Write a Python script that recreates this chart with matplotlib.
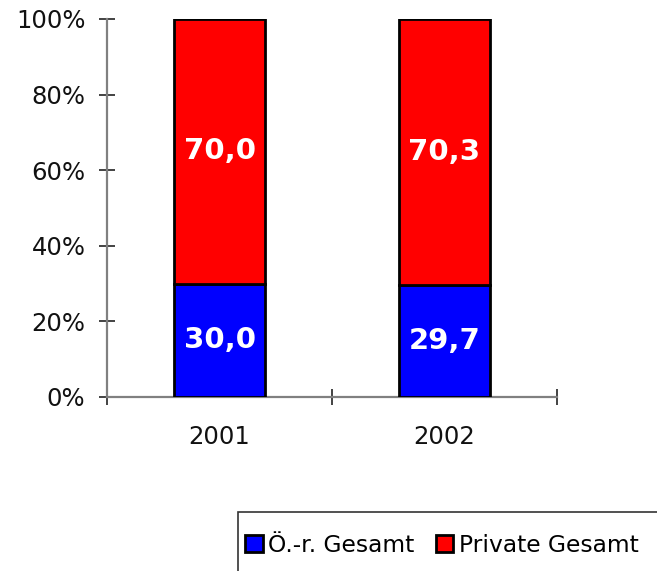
import matplotlib.pyplot as plt
from matplotlib.patches import Rectangle
import numpy as np

years = ['2001', '2002']
oeffentlich = [30.0, 29.7]
privat = [70.0, 70.3]
labels_oe = ['30,0', '29,7']
labels_pr = ['70,0', '70,3']

plt.rcParams['font.family'] = ['DejaVu Sans']

fig = plt.figure(figsize=(6.57, 5.71), dpi=100)
W, H = 657, 571
ax = fig.add_axes([107 / W, 1 - 397 / H, 450 / W, 378 / H])

x = np.arange(len(years))
w = 0.405
b1 = ax.bar(x, oeffentlich, w, color='#0000ff', edgecolor='black', linewidth=2,
            label='Ö.-r. Gesamt', zorder=3)
b2 = ax.bar(x, privat, w, bottom=oeffentlich, color='#ff0000', edgecolor='black',
            linewidth=2, label='Private Gesamt', zorder=3)

for i in range(len(years)):
    ax.text(x[i], oeffentlich[i] / 2, labels_oe[i], ha='center', va='center',
            color='white', fontsize=21, fontweight='bold', zorder=4)
    ax.text(x[i], oeffentlich[i] + privat[i] / 2, labels_pr[i], ha='center', va='center',
            color='white', fontsize=21, fontweight='bold', zorder=4)

ax.set_xlim(-0.5, 1.5)
ax.set_ylim(0, 100)
ax.set_yticks(np.arange(0, 101, 20))
ax.set_yticklabels([f'{v}%' for v in range(0, 101, 20)], fontsize=17.5, color='#111111')
ax.set_xticks(x)
ax.set_xticklabels(years, fontsize=17.5, color='#111111')
ax.set_xticks([-0.5, 0.5, 1.5], minor=True)
ax.tick_params(axis='x', which='major', length=0, pad=20)
ax.tick_params(axis='x', which='minor', length=12, direction='inout', color='#222222', width=1.2)
ax.tick_params(axis='y', length=11, direction='inout', color='#222222', width=1.2, pad=10)

for s in ['top', 'right']:
    ax.spines[s].set_visible(False)
for s in ['left', 'bottom']:
    ax.spines[s].set_color('#808080')
    ax.spines[s].set_linewidth(1.6)

# Legendenrahmen ragt über den Bildrand hinaus
fig.patches.append(Rectangle((238 / W, -0.1), 1.0, 1 - 512 / H + 0.1, transform=fig.transFigure,
                             facecolor='white', edgecolor='#333333', linewidth=1.2))
fig.legend(handles=[b1, b2], loc='center left', bbox_to_anchor=(245 / W, 1 - 545 / H),
           ncol=2, fontsize=16.8, frameon=False,
           handlelength=0.75, handleheight=0.75, handletextpad=0.25, columnspacing=0.9,
           borderpad=0, borderaxespad=0)

fig.savefig('out.png', dpi=100)
